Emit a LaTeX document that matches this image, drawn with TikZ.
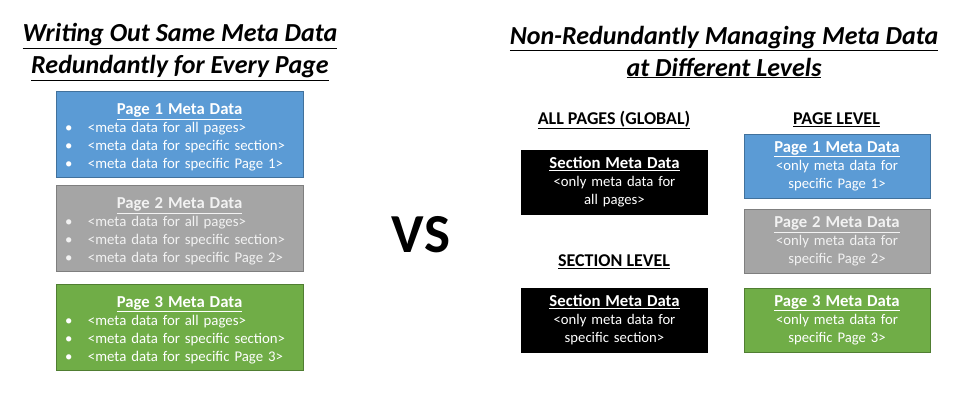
\documentclass[tikz,border=0pt]{standalone}
\usepackage{fontspec}
\setmainfont{Carlito}
\definecolor{bluefill}{HTML}{5B9BD5}
\definecolor{blueline}{HTML}{41719C}
\definecolor{grayfill}{HTML}{A5A5A5}
\definecolor{grayline}{HTML}{7F7F7F}
\definecolor{greenfill}{HTML}{70AD47}
\definecolor{greenline}{HTML}{507E32}
\definecolor{graytext}{HTML}{F2F2F2}
\newcommand{\bl}[1]{\hspace*{9pt}\makebox[23pt][l]{\textbullet}#1\par}
\newcommand{\hd}[1]{{\centering\fontsize{16.7}{19}\selectfont\bfseries\underline{#1}\par}}
\begin{document}
\begin{tikzpicture}[x=1pt,y=-1pt,
  leftbox/.style={draw, line width=1pt, minimum width=247pt, minimum height=86pt, inner sep=0pt},
  lefttext/.style={text width=247pt, inner sep=0pt, font=\fontsize{14.8}{18}\selectfont, text=white, align=left},
  rightbox/.style={draw, line width=1pt, minimum width=186pt, minimum height=64pt,
    text width=186pt, inner sep=0pt, font=\fontsize{14.7}{18}\selectfont, text=white, align=center},
  title/.style={font=\fontsize{26}{32}\selectfont\bfseries\itshape, align=center, inner sep=0pt},
  level/.style={font=\fontsize{18}{20}\selectfont\bfseries, inner sep=0pt}]
\useasboundingbox (0,0) rectangle (960,410);
% titles
\node[title] (tl) at (180,52) {\underline{Writing Out Same Meta Data}\\\underline{Redundantly for Every Page}};
\node[title] (tr) at (724,52) {\underline{Non-Redundantly Managing Meta Data}\\\underline{at Different Levels}};
% left boxes
\node[leftbox, fill=bluefill, draw=blueline] (p1) at (179.5,134.5) {};
\node[lefttext] (p1t) at ([yshift=-3pt]p1.center) {\hd{Page 1 Meta Data}\bl{<meta data for all pages>}\bl{<meta data for specific section>}\bl{<meta data for specific Page 1>}};
\node[leftbox, fill=grayfill, draw=grayline] (p2) at (179.5,228.5) {};
\node[lefttext, text=graytext] (p2t) at ([yshift=-3pt]p2.center) {\hd{Page 2 Meta Data}\bl{<meta data for all pages>}\bl{<meta data for specific section>}\bl{<meta data for specific Page 2>}};
\node[leftbox, fill=greenfill, draw=greenline] (p3) at (179.5,327) {};
\node[lefttext] (p3t) at ([yshift=-3pt]p3.center) {\hd{Page 3 Meta Data}\bl{<meta data for all pages>}\bl{<meta data for specific section>}\bl{<meta data for specific Page 3>}};
% VS
\node[font=\fontsize{55}{60}\selectfont\bfseries, inner sep=0pt] (vs) at (421,235) {VS};
% level labels
\node[level] (lg) at (614,120) {\underline{ALL PAGES (GLOBAL)}};
\node[level] (lp) at (836.5,120) {\underline{PAGE LEVEL}};
\node[level] (ls) at (614,262) {\underline{SECTION LEVEL}};
% right boxes
\node[rightbox, fill=black, draw=black] (s1) at (614.5,182) {\hd{Section Meta Data}<only meta data for\\all pages>};
\node[rightbox, fill=black, draw=black] (s2) at (614.5,320) {\hd{Section Meta Data}<only meta data for\\specific section>};
\node[rightbox, fill=bluefill, draw=blueline] (q1) at (837,166) {\hd{Page 1 Meta Data}<only meta data for\\specific Page 1>};
\node[rightbox, fill=grayfill, draw=grayline, text=graytext] (q2) at (837,241.5) {\hd{Page 2 Meta Data}<only meta data for\\specific Page 2>};
\node[rightbox, fill=greenfill, draw=greenline] (q3) at (837,320) {\hd{Page 3 Meta Data}<only meta data for\\specific Page 3>};
\end{tikzpicture}
\end{document}
